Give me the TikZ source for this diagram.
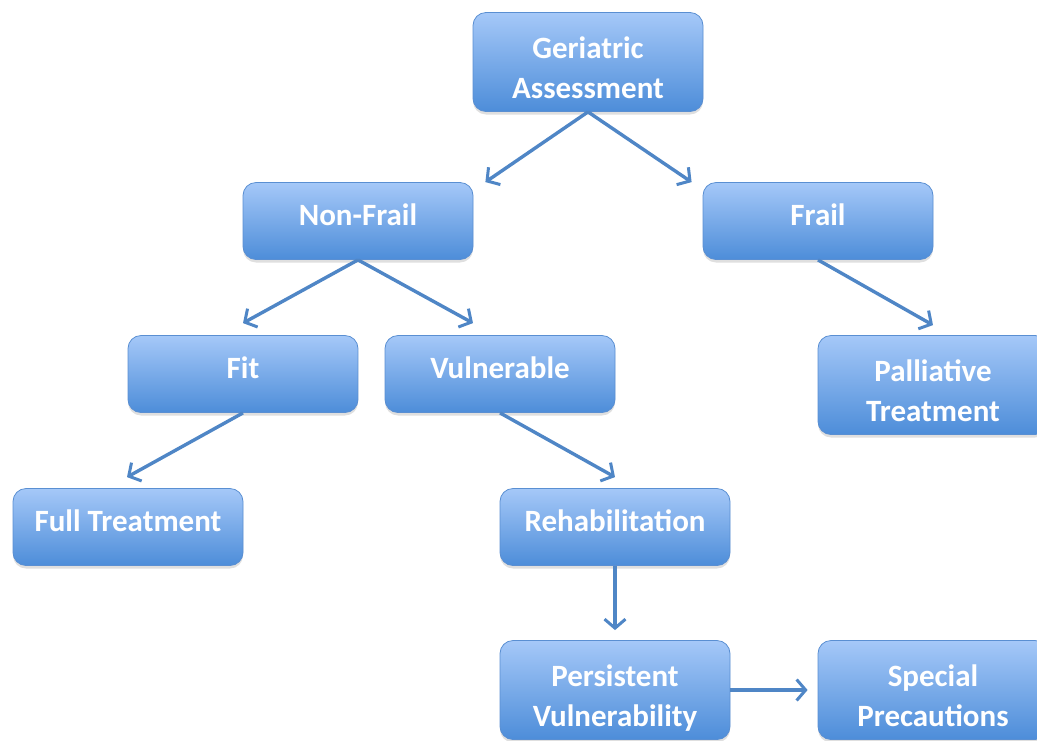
\documentclass[tikz,border=0pt]{standalone}
\usepackage{fontspec}
\setmainfont{Carlito}
\usetikzlibrary{arrows.meta,shadows}
\definecolor{boxtop}{HTML}{A5C8F8}
\definecolor{boxbot}{HTML}{4D8DD9}
\definecolor{boxline}{HTML}{5A8FD2}
\definecolor{arrowblue}{HTML}{4F86C6}
\newcommand{\strutup}{22pt}
\newcommand{\strutdown}{14pt}
\begin{document}
\begin{tikzpicture}[
  x=1pt, y=1pt,
  box/.style={rectangle, rounded corners=13pt, draw=boxline, line width=0.8pt,
    top color=boxtop, bottom color=boxbot, text=white, align=center,
    minimum width=230pt, minimum height=77pt, inner sep=0pt,
    font=\fontsize{31}{40}\selectfont\bfseries,
    execute at begin node={\rule{0pt}{\strutup}},
    execute at end node={\rule[-\strutdown]{0pt}{\strutdown}},
    drop shadow={opacity=0.25, shadow xshift=0pt, shadow yshift=-3pt}},
  tall/.style={minimum height=99pt,
    /utils/exec={\def\strutup{78pt}\def\strutdown{6pt}}},
  e/.style={arrowblue, line width=3.4pt, -{Straight Barb[length=9pt,width=21pt,line width=3pt]}}
]
\useasboundingbox (0,0) rectangle (1037,-740);

% boxes
\node[box, tall] (ga) at (588,-62) {Geriatric\\Assessment};
\node[box] (nf) at (358,-221) {Non-Frail};
\node[box] (frail) at (818,-221) {Frail};
\node[box] (fit) at (243,-374) {Fit};
\node[box] (vul) at (500,-374) {Vulnerable};
\node[box, tall] (pal) at (933,-385) {Palliative\\Treatment};
\node[box] (full) at (128,-527) {Full Treatment};
\node[box] (rehab) at (615,-527) {Rehabilitation};
\node[box, tall] (pers) at (615,-690) {Persistent\\Vulnerability};
\node[box, tall] (spec) at (933,-690) {Special\\Precautions};

% arrows
\draw[e] (ga.south) -- ([xshift=12pt]nf.north east);
\draw[e] (ga.south) -- ([xshift=-11pt]frail.north west);
\draw[e] (nf.south) -- ([yshift=12pt]fit.north);
\draw[e] (nf.south) -- ([xshift=-27pt,yshift=12pt]vul.north);
\draw[e] (frail.south) -- ([yshift=10pt]pal.north);
\draw[e] (fit.south) -- ([xshift=-1pt,yshift=11pt]full.north);
\draw[e] (vul.south) -- ([yshift=11pt]rehab.north);
\draw[e] (rehab.south) -- ([yshift=10pt]pers.north);
\draw[e] (pers.east) -- ([xshift=-10pt]spec.west);
\end{tikzpicture}
\end{document}
